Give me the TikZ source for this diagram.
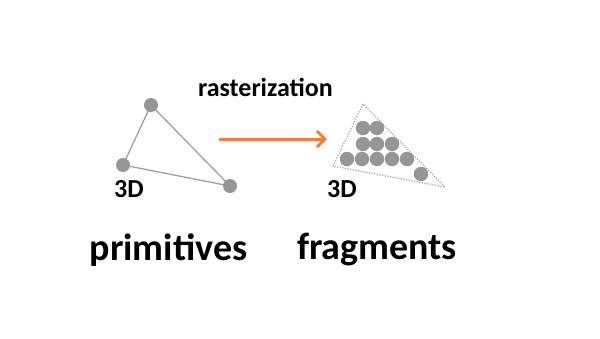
\documentclass[tikz,border=0pt]{standalone}
\usepackage{fontspec}
\setmainfont{Carlito}
\usetikzlibrary{arrows.meta}
\definecolor{dotgray}{HTML}{969696}
\definecolor{linegray}{HTML}{A0A0A0}
\definecolor{arroworange}{HTML}{F57D3C}
\begin{document}
\begin{tikzpicture}[x=1pt,y=-1pt,
  vert/.style={circle,fill=dotgray,inner sep=0pt,minimum size=14pt},
  frag/.style={circle,fill=dotgray,inner sep=0pt,minimum size=14.5pt},
  small/.style={font=\fontsize{26}{30}\selectfont\bfseries,inner sep=0pt,anchor=base},
  big/.style={font=\fontsize{38}{44}\selectfont\bfseries,inner sep=0pt,anchor=base}]
\useasboundingbox (0,0) rectangle (600,338);
% primitives
\coordinate (a) at (151,105);
\coordinate (b) at (123,165);
\coordinate (c) at (230,186);
\draw[linegray,line width=1.3pt] (a) -- (b) -- (c) -- cycle;
\node[vert] (va) at (a) {};
\node[vert] (vb) at (b) {};
\node[vert] (vc) at (c) {};
\node[small] (l3d) at (129,197) {3D};
\node[big] (prim) at (168.5,260) {primitives};
% arrow
\coordinate (as) at (219,139);
\coordinate (ae) at (327,139);
\draw[arroworange,line width=3pt,-{Straight Barb[length=8pt,width=16pt,line width=3pt]}] (as) -- (ae);
\node[small] (rast) at (265.5,96) {rasterization};
% fragments
\coordinate (p) at (363,104);
\coordinate (q) at (333,166);
\coordinate (r) at (445,187);
\draw[linegray,line width=1.2pt,dash pattern=on 1.2pt off 1.5pt] (p) -- (q) -- (r) -- cycle;
\foreach \x/\y [count=\i] in {363/128,377/128,363/144,377/144,392/144,347/159,362/159,377/159,392/159,407/159,421/174}
  \node[frag] (f\i) at (\x,\y) {};
\node[small] (r3d) at (342,197) {3D};
\node[big] (frag) at (377,259) {fragments};
\end{tikzpicture}
\end{document}
